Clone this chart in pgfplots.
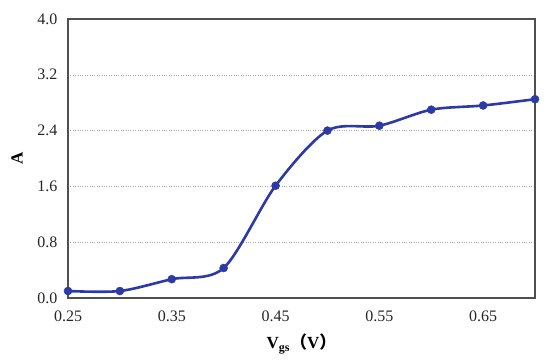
\documentclass[border=0pt]{standalone}
\usepackage{pgfplots}
\pgfplotsset{compat=1.18}
\usepackage{fontspec}
\setmainfont{Liberation Serif}
\newfontfamily\cjk{Noto Sans CJK SC}
\definecolor{lineblue}{RGB}{45,58,165}
\definecolor{boxgray}{RGB}{80,80,80}
\begin{document}
\begin{tikzpicture}
\begin{axis}[
  scale only axis,
  width=467pt, height=279pt,
  xmin=0.25, xmax=0.70,
  ymin=0, ymax=4.0,
  xtick={0.25,0.35,0.45,0.55,0.65},
  ytick={0,0.8,1.6,2.4,3.2,4.0},
  xticklabel style={/pgf/number format/.cd,fixed,fixed zerofill,precision=2},
  yticklabel style={/pgf/number format/.cd,fixed,fixed zerofill,precision=1},
  /pgf/number format/assume math mode=true,
  tick label style={font=\fontsize{16}{18}\selectfont, text=black!85},
  major tick length=0pt,
  xticklabel shift=9pt,
  yticklabel shift=7pt,
  axis line style={boxgray, line width=1.1pt},
  ymajorgrids,
  grid style={gray!70, dotted, line width=0.6pt},
  xlabel={\textbf{V\textsubscript{gs}}{\cjk\bfseries （}\textbf{V}{\cjk\bfseries ）}},
  ylabel={\textbf{A}},
  label style={font=\fontsize{17}{19}\selectfont},
  xlabel style={yshift=-6pt},
  ylabel style={yshift=8pt},
  clip=false,
]
\addplot[lineblue, line width=2.6pt, smooth, tension=0.5,
  mark=*, mark size=4pt, mark options={fill=lineblue, draw=lineblue, line width=0.5pt}]
coordinates {
  (0.25,0.10) (0.30,0.10) (0.35,0.27) (0.40,0.43) (0.45,1.61)
  (0.50,2.40) (0.55,2.47) (0.60,2.70) (0.65,2.76) (0.70,2.85)
};
\end{axis}
\pgfresetboundingbox
\path ([xshift=-68pt,yshift=-61pt]current axis.south west) rectangle ([xshift=15pt,yshift=19pt]current axis.north east);
\end{tikzpicture}
\end{document}
